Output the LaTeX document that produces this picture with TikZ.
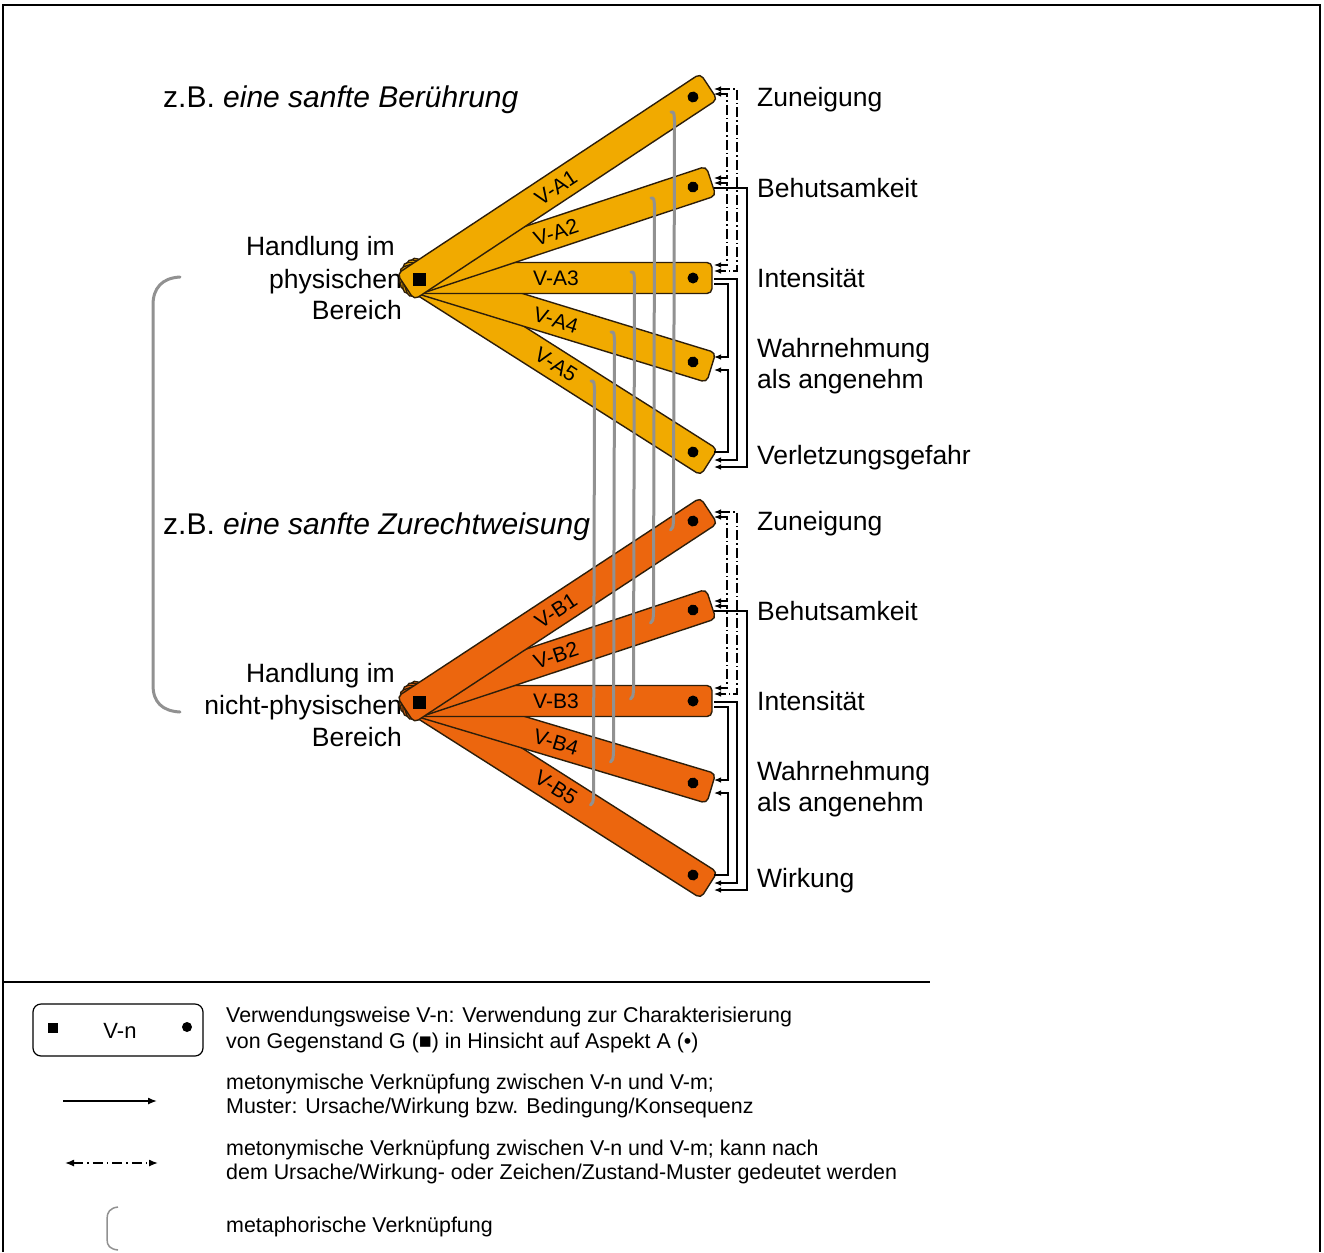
\documentclass[tikz,border=0pt]{standalone}
\usepackage{fontspec}
\setmainfont{Liberation Sans}
\usetikzlibrary{arrows.meta}
\definecolor{amber}{RGB}{241,170,0}
\definecolor{orng}{RGB}{236,102,14}
\definecolor{edgec}{RGB}{45,30,10}
\definecolor{metag}{RGB}{145,145,145}
\tikzset{
  barbox/.style={draw=edgec, line width=1.4pt, rounded corners=5pt},
  barlbl/.style={font=\fontsize{21}{25}\selectfont, inner sep=0pt},
  pivotsq/.style={fill=black, minimum size=13pt, inner sep=0pt},
  sarr/.style={draw=black, line width=1.2pt, -{Latex[length=7pt,width=5.5pt]}},
  darr/.style={draw=black, line width=1.1pt, {Latex[length=7pt,width=5.5pt]}-{Latex[length=7pt,width=5.5pt]}, dash pattern=on 10pt off 3pt on 1.5pt off 3pt},
  legarr/.style={draw=black, line width=1.4pt, -{Latex[length=9pt,width=7pt]}},
  legdarr/.style={draw=black, line width=1.4pt, {Latex[length=9pt,width=7pt]}-{Latex[length=9pt,width=7pt]}, dash pattern=on 10pt off 4pt on 1.5pt off 4pt},
  metaline/.style={draw=metag, line width=3pt, line cap=round},
  biglbl/.style={font=\fontsize{26.5}{31.5}\selectfont, inner sep=0pt},
  zblbl/.style={font=\fontsize{30}{36}\selectfont, inner sep=0pt, anchor=mid west},
  legtxt/.style={font=\fontsize{21.4}{25}\selectfont, inner sep=0pt, anchor=mid west},
}
% #1 label node name, #2 pivot, #3 angle, #4 distance to dot, #5 colour, #6 label
\newcommand\mkbar[6]{%
  \begin{scope}[shift={#2}, rotate=#3]
    \draw[barbox, fill=#5] (-16,-15.5) rectangle ({#4+19},15.5);
    \fill ({#4},0) circle (5.5);
    \node[barlbl, rotate=#3] (#1) at ({137/cos(#3)},0) {#6};
  \end{scope}}
% metaphoric gray link: #1 top coordinate, #2 bottom coordinate
\newcommand\metalink[2]{%
  \draw[metaline] ([xshift=-3pt,yshift=1pt]#1) .. controls ([xshift=0pt,yshift=1pt]#1) .. ([xshift=0.5pt,yshift=-8pt]#1)
     -- ([xshift=0.5pt,yshift=8pt]#2) .. controls ([xshift=0pt]#2) .. ([xshift=-2.5pt,yshift=-2pt]#2);}
\begin{document}
\begin{tikzpicture}[x=1pt,y=-1pt]
\useasboundingbox (0,0) rectangle (1324,1252);
% frame
\draw[line width=2pt] (3,1252) -- (3,5) -- (1320,5) -- (1320,1252);
\draw[line width=2pt] (3,982) -- (930,982);

% left texts (behind bars)
\node[zblbl] (zbA) at (163,105) {z.B. \textit{eine sanfte Berührung}};
\node[zblbl] (zbB) at (163,532) {z.B. \textit{eine sanfte Zurechtweisung}};
\node[biglbl, anchor=mid east] (hA1) at (395,253) {Handlung im};
\node[biglbl, anchor=mid east] (hA2) at (402,286) {physischen};
\node[biglbl, anchor=mid east] (hA3) at (402,317) {Bereich};
\node[biglbl, anchor=mid east] (hB1) at (395,680) {Handlung im};
\node[biglbl, anchor=mid east] (hB2) at (402,712) {nicht-physischen};
\node[biglbl, anchor=mid east] (hB3) at (402,744) {Bereich};

% bracket (metaphoric link)
\draw[metaline] (180,277) .. controls (162,278) and (153,288) .. (153,305) -- (153,685) .. controls (153,702) and (162,711) .. (180,712);

% top bars
\mkbar{lA5}{(419,278)}{-32.42}{324.6}{amber}{V-A5}
\mkbar{lA4}{(419,278)}{-17.04}{286.6}{amber}{V-A4}
\mkbar{lA3}{(419,278)}{0}{274}{amber}{V-A3}
\mkbar{lA2}{(419,278)}{18.37}{288.7}{amber}{V-A2}
\mkbar{lA1}{(419,278)}{33.45}{328.4}{amber}{V-A1}
\node[pivotsq] (PA) at (419,279) {};

% bottom bars
\mkbar{lB5}{(419,701)}{-32.42}{324.6}{orng}{V-B5}
\mkbar{lB4}{(419,701)}{-16.66}{286.0}{orng}{V-B4}
\mkbar{lB3}{(419,701)}{0}{274}{orng}{V-B3}
\mkbar{lB2}{(419,701)}{18.37}{288.7}{orng}{V-B2}
\mkbar{lB1}{(419,701)}{33.30}{327.8}{orng}{V-B1}
\node[pivotsq] (PB) at (419,702) {};

% metaphoric links between bars
\coordinate (m1t) at (674,113); \coordinate (m1b) at (673,528);
\coordinate (m2t) at (654,199); \coordinate (m2b) at (653,621);
\coordinate (m3t) at (634,273); \coordinate (m3b) at (633,697);
\coordinate (m4t) at (614,333); \coordinate (m4b) at (613,760);
\coordinate (m5t) at (594,382); \coordinate (m5b) at (593,803);
\metalink{m1t}{m1b}
\metalink{m2t}{m2b}
\metalink{m3t}{m3b}
\metalink{m4t}{m4b}
\metalink{m5t}{m5b}

% bar ends
\coordinate (A1) at (714,97);
\coordinate (A2) at (714,187);
\coordinate (A3) at (714,278);
\coordinate (A4) at (714,362);
\coordinate (A5) at (714,452);
\coordinate (B1) at (714,520);
\coordinate (B2) at (714,610);
\coordinate (B3) at (714,701);
\coordinate (B4) at (714,785);
\coordinate (B5) at (714,875);

% top connectors
\draw[darr] ([yshift=8pt]A1) -- ++(23,0) |- ([yshift=7pt]A3);
\draw[darr] ([yshift=3pt]A1) -- ++(13,0) |- ([yshift=9pt]A2);
\draw[darr] ([yshift=4pt]A2) -- ++(13,0) |- ([yshift=13pt]A3);
\draw[sarr] ([yshift=-1pt]A2) -- ++(33,0) |- ([yshift=-15pt]A5);
\draw[sarr] ([yshift=-1pt]A3) -- ++(23,0) |- ([yshift=-8pt]A5);
\draw[sarr] ([yshift=-6pt]A3) -- ++(14,0) |- ([yshift=5pt]A4);
\draw[sarr] ([yshift=0pt]A5) -- ++(14,0) |- ([yshift=-8pt]A4);

% bottom connectors
\draw[darr] ([yshift=8pt]B1) -- ++(23,0) |- ([yshift=7pt]B3);
\draw[darr] ([yshift=3pt]B1) -- ++(13,0) |- ([yshift=9pt]B2);
\draw[darr] ([yshift=4pt]B2) -- ++(13,0) |- ([yshift=13pt]B3);
\draw[sarr] ([yshift=-1pt]B2) -- ++(33,0) |- ([yshift=-15pt]B5);
\draw[sarr] ([yshift=-1pt]B3) -- ++(23,0) |- ([yshift=-8pt]B5);
\draw[sarr] ([yshift=-6pt]B3) -- ++(14,0) |- ([yshift=5pt]B4);
\draw[sarr] ([yshift=0pt]B5) -- ++(14,0) |- ([yshift=-8pt]B4);

% right labels
\node[biglbl, anchor=mid west] (rA1) at (757,104) {Zuneigung};
\node[biglbl, anchor=mid west] (rA2) at (757,195) {Behutsamkeit};
\node[biglbl, anchor=mid west] (rA3) at (757,285) {Intensität};
\node[biglbl, anchor=west, align=left] (rA4) at (757,366) {Wahrnehmung\\als angenehm};
\node[biglbl, anchor=mid west] (rA5) at (757,462) {Verletzungsgefahr};
\node[biglbl, anchor=mid west] (rB1) at (757,528) {Zuneigung};
\node[biglbl, anchor=mid west] (rB2) at (757,618) {Behutsamkeit};
\node[biglbl, anchor=mid west] (rB3) at (757,708) {Intensität};
\node[biglbl, anchor=west, align=left] (rB4) at (757,789) {Wahrnehmung\\als angenehm};
\node[biglbl, anchor=mid west] (rB5) at (757,885) {Wirkung};

% legend
\node[draw, line width=1.2pt, rounded corners=8pt, minimum width=170pt, minimum height=52pt] (legbox) at (118,1030) {};
\node[fill=black, minimum size=10pt, inner sep=0pt] (legsq) at (53,1028) {};
\node[font=\fontsize{22}{26}\selectfont, inner sep=0pt] (legvn) at (120,1031) {V-n};
\fill (187,1027) circle (5);
\node[legtxt] (lt1) at (226,1020) {Verwendungsweise V-n: Verwendung zur Charakterisierung};
\node[legtxt] (lt2) at (226,1046) {von Gegenstand G (■) in Hinsicht auf Aspekt A (•)};
\coordinate (la1) at (63,1101); \coordinate (la2) at (157,1101);
\draw[legarr] (la1) -- (la2);
\node[legtxt] (lt3) at (226,1087) {metonymische Verknüpfung zwischen V-n und V-m;};
\node[legtxt] (lt4) at (226,1111) {Muster: Ursache/Wirkung bzw. Bedingung/Konsequenz};
\coordinate (ld1) at (65,1163); \coordinate (ld2) at (158,1163);
\draw[legdarr] (ld1) -- (ld2);
\node[legtxt] (lt5) at (226,1153) {metonymische Verknüpfung zwischen V-n und V-m; kann nach};
\node[legtxt] (lt6) at (226,1177) {dem Ursache/Wirkung- oder Zeichen/Zustand-Muster gedeutet werden};
\draw[draw=metag, line width=1.5pt] (118,1207) .. controls (110,1208) and (107,1212) .. (107,1219) -- (107,1239) .. controls (107,1246) and (110,1249) .. (118,1250);
\node[legtxt] (lt7) at (226,1230) {metaphorische Verknüpfung};
\end{tikzpicture}
\end{document}
